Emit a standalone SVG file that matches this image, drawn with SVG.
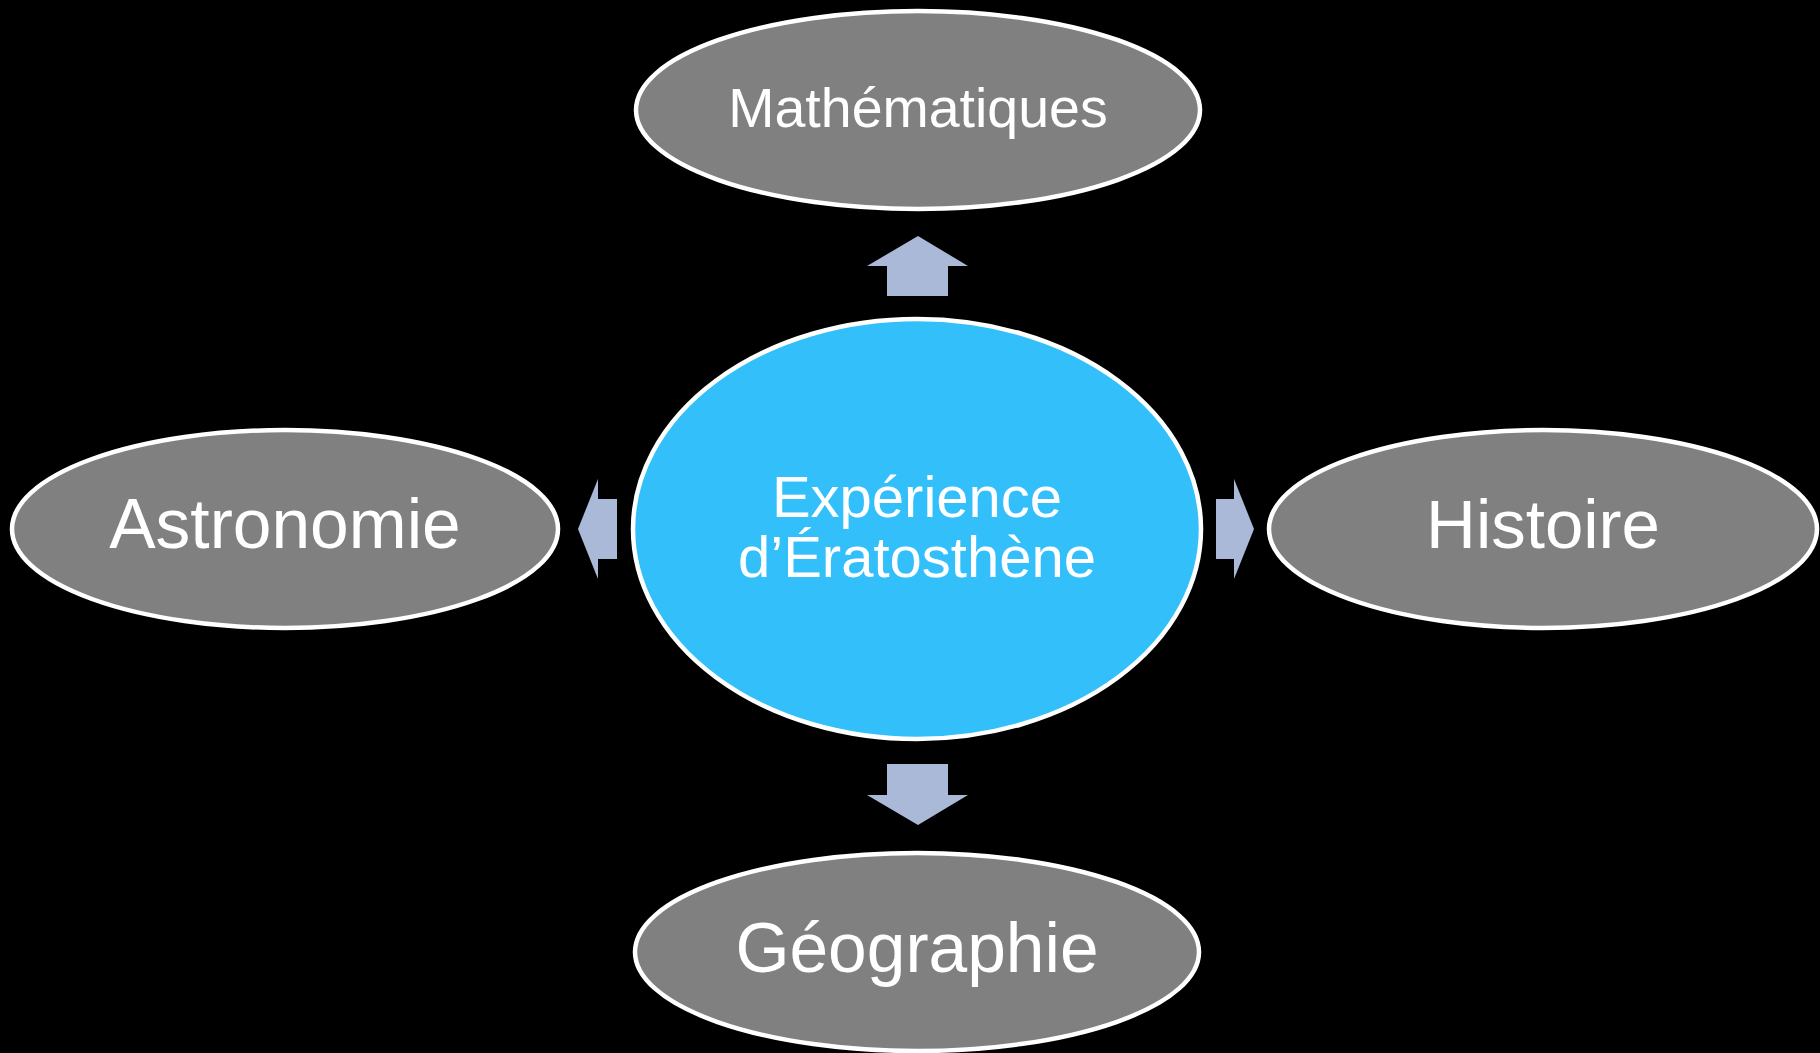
<svg xmlns="http://www.w3.org/2000/svg" width="1820" height="1053" viewBox="0 0 1820 1053">
<style>
.node{fill:#808080;stroke:#ffffff;stroke-width:4.5}
.center{fill:#33BFFA;stroke:#ffffff;stroke-width:4.5}
.lbl{font-family:"Liberation Sans",Arial,sans-serif;fill:#ffffff;text-anchor:middle}
.arrow{fill:#AAB9D7}
</style>
<rect x="0" y="0" width="1820" height="1053" fill="#000000"/>
<g id="connectors">
<polygon class="arrow" points="918,236 968,266 948,266 948,296 887,296 887,266 867,266"/>
<polygon class="arrow" points="918,825 968,795 948,795 948,764 887,764 887,795 867,795"/>
<polygon class="arrow" points="578,529 598,479 598,499 617,499 617,559 598,559 598,579"/>
<polygon class="arrow" points="1254,529 1234,479 1234,499 1216,499 1216,559 1234,559 1234,579"/>
</g>
<g id="node-center">
<ellipse class="center" cx="917" cy="529" rx="284" ry="210"/>
<text class="lbl" x="917" y="517" font-size="58">Expérience</text>
<text class="lbl" x="917" y="577" font-size="58">d’Ératosthène</text>
</g>
<g id="node-math">
<ellipse class="node" cx="918" cy="110" rx="282" ry="99"/>
<text class="lbl" x="918" y="127" font-size="55.5">Mathématiques</text>
</g>
<g id="node-astro">
<ellipse class="node" cx="285" cy="529" rx="273" ry="99"/>
<text class="lbl" x="285" y="548" font-size="69.5">Astronomie</text>
</g>
<g id="node-hist">
<ellipse class="node" cx="1543" cy="529" rx="274" ry="99"/>
<text class="lbl" x="1543" y="548" font-size="69">Histoire</text>
</g>
<g id="node-geo">
<ellipse class="node" cx="917" cy="952" rx="282" ry="99"/>
<text class="lbl" x="917" y="972" font-size="69.5">Géographie</text>
</g>
</svg>
